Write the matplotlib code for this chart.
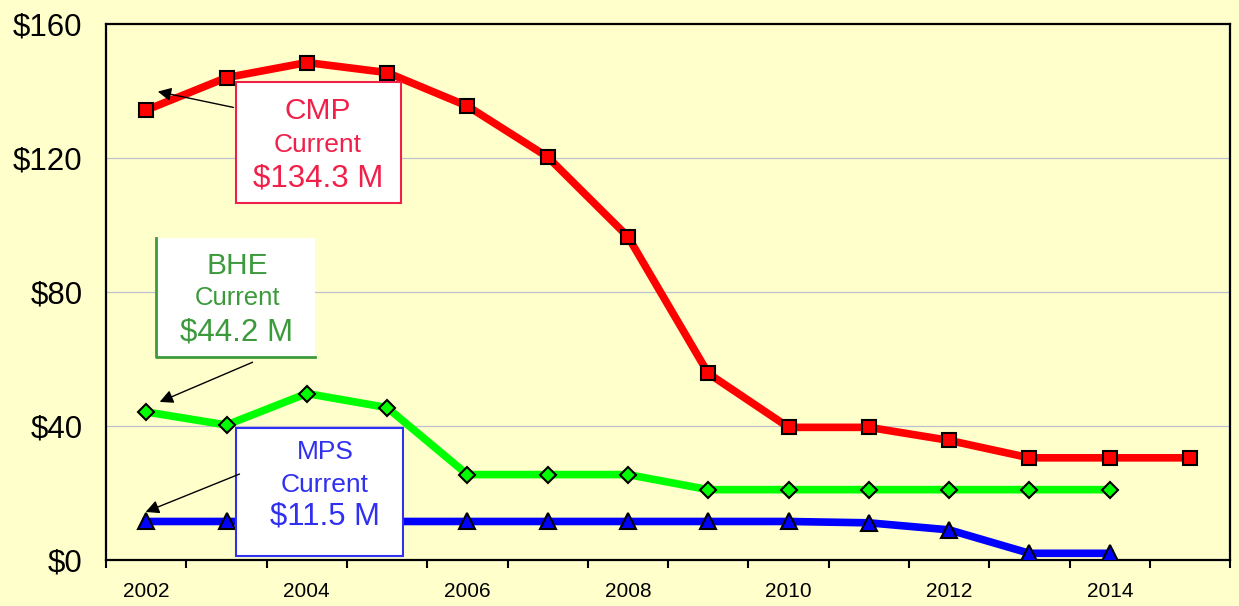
import matplotlib
matplotlib.use("Agg")
from matplotlib import pyplot as plt
from matplotlib.patches import Rectangle
import numpy as np

plt.rcParams['font.family'] = ['Liberation Sans', 'DejaVu Sans']

years = [2002, 2003, 2004, 2005, 2006, 2007, 2008, 2009, 2010, 2011, 2012, 2013, 2014, 2015]
cmp_vals = [134.3, 144.0, 148.5, 145.5, 135.5, 120.3, 96.5, 55.7, 39.6, 39.6, 35.7, 30.5, 30.5, 30.5]
bhe_vals = [44.2, 40.3, 49.7, 45.5, 25.5, 25.5, 25.5, 21.0, 21.0, 21.0, 21.0, 21.0, 21.0]
mps_vals = [11.5, 11.5, 11.5, 11.5, 11.5, 11.5, 11.5, 11.5, 11.5, 11.1, 9.0, 2.0, 2.0]
y_ticks = [0, 40, 80, 120, 160]
y_labels = ["$0", "$40", "$80", "$120", "$160"]

bg = "#FFFFCC"
fig = plt.figure(figsize=(12.39, 6.06), dpi=100, facecolor=bg)
ax = fig.add_axes([0.0856, 0.0759, 0.9073, 0.8845])
ax.set_facecolor(bg)

x = np.arange(len(years)) + 0.5

ax.plot(x[:len(cmp_vals)], cmp_vals, color="#FF0000", lw=5.5, marker="s", ms=10,
        mfc="#FF0000", mec="black", mew=1.5, zorder=3)
ax.plot(x[:len(bhe_vals)], bhe_vals, color="#00FF00", lw=5.5, marker="D", ms=8.5,
        mfc="#00FF00", mec="black", mew=1.5, zorder=3)
ax.plot(x[:len(mps_vals)], mps_vals, color="#0000FF", lw=5.5, marker="^", ms=11,
        mfc="#0000FF", mec="black", mew=1.5, zorder=3)

ax.set_xlim(0, len(years))
ax.set_ylim(0, 160)
ax.set_yticks(y_ticks)
ax.set_yticklabels(y_labels, fontsize=22.5)
ax.tick_params(axis="y", length=0, pad=17)
ax.set_xticks(x[::2])
ax.set_xticklabels([str(y) for y in years[::2]], fontsize=15)
ax.set_xticks(np.arange(len(years) + 1), minor=True)
ax.tick_params(axis="x", which="major", length=0, pad=16)
ax.tick_params(axis="x", which="minor", length=6, width=1.5, direction="out")
for t in y_ticks[1:-1]:
    ax.axhline(t, color="#C0C0D0", lw=0.9, zorder=1)
for s in ax.spines.values():
    s.set_linewidth(1.6)

# label boxes
def box(x0, y0, x1, y1, ec, sides="all"):
    r = Rectangle((x0, y0), x1 - x0, y1 - y0, transform=ax.transAxes,
                  facecolor="white", edgecolor=ec if sides == "all" else "none",
                  lw=1.5, zorder=4)
    ax.add_patch(r)
    if sides != "all":
        ax.plot([x0, x0, x1], [y1, y0, y0], color=ec, lw=2, transform=ax.transAxes,
                zorder=5, clip_on=False)

box(0.1157, 0.666, 0.2625, 0.8918, "#F0204A")
box(0.0445, 0.3787, 0.186, 0.6007, "#3C9A3C", sides="lb")
box(0.1157, 0.0075, 0.2642, 0.2463, "#3030F0")

def label(xc, ys, texts, sizes, color):
    for y, t, s in zip(ys, texts, sizes):
        ax.text(xc, y, t, transform=ax.transAxes, ha="center", va="center",
                fontsize=s, color=color, zorder=6)

label(0.1886, [0.838, 0.775, 0.711], ["CMP", "Current", "$134.3 M"], [21.5, 19, 22.5], "#F0204A")
label(0.1165, [0.549, 0.489, 0.425], ["BHE", "Current", "$44.2 M"], [21.5, 18.5, 22.5], "#3C9A3C")
label(0.1948, [0.201, 0.140, 0.082], ["MPS", "Current", "$11.5 M"], [19, 19, 22.3], "#3030F0")

arrow = dict(arrowstyle="-|>", color="black", lw=1, mutation_scale=20)
ax.annotate("", xy=(0.0436, 0.8750), xytext=(0.1157, 0.8433),
            xycoords="axes fraction", arrowprops=arrow, zorder=7)
ax.annotate("", xy=(0.0454, 0.2929), xytext=(0.1326, 0.371),
            xycoords="axes fraction", arrowprops=arrow, zorder=7)
ax.annotate("", xy=(0.0329, 0.0877), xytext=(0.121, 0.1623),
            xycoords="axes fraction", arrowprops=arrow, zorder=7)

fig.savefig("out.png", dpi=100, facecolor=bg)
